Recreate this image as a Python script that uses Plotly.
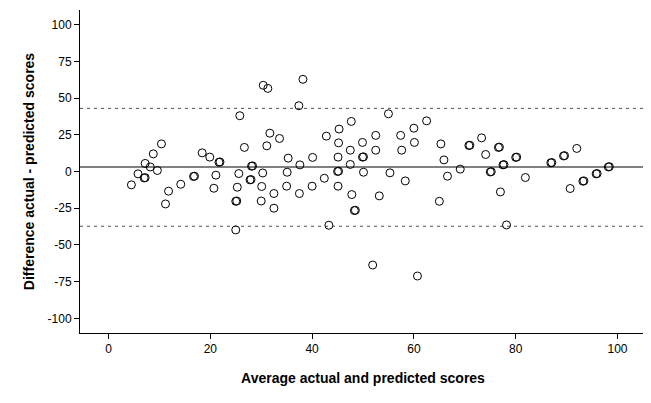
import plotly.graph_objects as go

# Bland-Altman: average of actual and predicted (x) vs difference (y)
avg_scores = [
    30.4, 31.3, 25.8, 31.7, 33.6, 26.7, 31.1, 10.4, 8.8, 18.4,
    19.9, 21.7, 21.9, 7.2, 8.2, 9.6, 28.1, 28.3, 5.8, 7.0,
    7.2, 4.5, 11.8, 11.2, 14.2, 16.7, 16.9, 21.1, 20.7, 25.6,
    25.3, 25.0, 25.2, 25.0, 27.8, 28.0, 30.3, 30.1, 30.0, 32.5,
    32.5, 38.2, 37.4, 55.0, 47.7, 62.5, 45.3, 60.0, 42.8, 52.5,
    57.4, 45.2, 49.9, 60.1, 65.3, 70.8, 71.0, 47.5, 52.5, 57.6,
    35.3, 40.1, 45.1, 49.9, 50.1, 65.9, 37.6, 47.5, 35.1, 45.0,
    45.2, 50.1, 55.3, 69.1, 66.6, 42.4, 58.3, 35.0, 37.5, 40.0,
    45.1, 47.8, 53.2, 48.3, 48.5, 65.0, 43.3, 51.9, 60.7, 73.3,
    74.1, 76.6, 76.8, 77.5, 77.7, 75.0, 75.2, 80.0, 80.2, 81.9,
    77.0, 78.2, 86.9, 87.1, 89.4, 89.6, 92.0, 90.7, 93.2, 93.4,
    95.8, 96.0, 98.2, 98.4,
]
diff_scores = [
    58.7, 56.6, 38.0, 26.1, 22.5, 16.4, 17.5, 18.8, 12.0, 12.7,
    9.8, 6.3, 6.5, 5.5, 3.1, 0.7, 3.6, 3.8, -1.6, -4.4,
    -4.2, -9.1, -13.4, -22.1, -8.7, -3.4, -3.2, -2.5, -11.4, -1.4,
    -10.7, -20.3, -20.1, -39.8, -5.7, -5.5, -1.0, -10.2, -20.1, -15.0,
    -25.0, 62.8, 44.8, 39.3, 34.1, 34.5, 28.9, 29.5, 24.1, 24.6,
    24.6, 19.5, 19.8, 19.8, 18.8, 17.7, 17.9, 14.5, 14.5, 14.5,
    9.1, 9.6, 9.8, 9.8, 10.0, 7.9, 4.5, 4.8, -0.5, 0.0,
    0.2, -0.5, -0.9, 1.6, -3.2, -4.6, -6.4, -10.0, -15.0, -10.0,
    -10.0, -15.7, -16.6, -26.6, -26.4, -20.3, -36.6, -63.7, -71.2, 22.9,
    11.6, 16.4, 16.6, 4.5, 4.7, -0.3, -0.1, 9.6, 9.8, -4.1,
    -13.9, -36.4, 5.9, 6.1, 10.6, 10.8, 15.7, -11.6, -6.6, -6.4,
    -1.6, -1.4, 3.1, 3.3,
]

mean_diff = 3.1
upper_loa = 43.0
lower_loa = -37.3

x_ticks = [0, 20, 40, 60, 80, 100]
y_ticks = [-100, -75, -50, -25, 0, 25, 50, 75, 100]
y_tick_labels = ['-100', '-75', '-50', '-25', '0', '25', '50', '75', '100']
x_range = [-5.6, 105.6]
y_range = [-110, 110]

fig = go.Figure()

# limits of agreement (dashed) and mean difference
for yv in [upper_loa, lower_loa]:
    fig.add_trace(go.Scatter(x=x_range, y=[yv, yv], mode='lines',
                             line=dict(color='#505050', width=1, dash='3px,4px'),
                             hoverinfo='skip', showlegend=False))
fig.add_trace(go.Scatter(x=x_range, y=[mean_diff, mean_diff], mode='lines',
                         line=dict(color='#808080', width=2),
                         hoverinfo='skip', showlegend=False))

fig.add_trace(go.Scatter(x=avg_scores, y=diff_scores, mode='markers',
                         marker=dict(symbol='circle-open', size=8, color='black',
                                     line=dict(width=1, color='black')),
                         showlegend=False))

axis_font = dict(family='Liberation Sans, Arial', size=12, color='black')
title_font = dict(family='Liberation Sans, Arial', size=14, color='black', weight='bold')

# page body has an 8px margin, so the figure is a bit smaller than the window
fig.update_layout(
    width=643, height=395,
    margin=dict(l=72, r=5, t=2, b=70),
    plot_bgcolor='white', paper_bgcolor='white',
    font=axis_font,
    xaxis=dict(range=x_range, tickvals=x_ticks, showgrid=False, zeroline=False,
               showline=True, linecolor='black', linewidth=1, automargin=False,
               ticks='outside', ticklen=5, tickcolor='black',
               title=dict(text='Average actual and predicted scores', font=title_font, standoff=17)),
    yaxis=dict(range=y_range, tickvals=y_ticks, ticktext=y_tick_labels,
               showgrid=False, zeroline=False, automargin=False,
               showline=True, linecolor='black', linewidth=1,
               ticks='outside', ticklen=5, tickcolor='black',
               title=dict(text='Difference actual - predicted scores', font=title_font, standoff=9)),
)

fig.write_html("out.html")
